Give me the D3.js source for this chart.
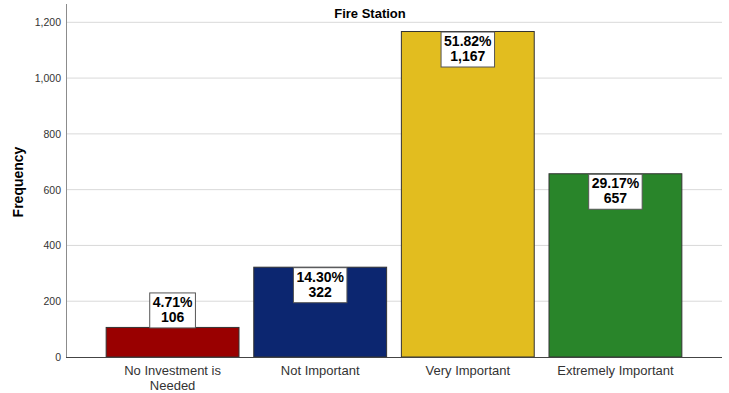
<!DOCTYPE html>
<html><head><meta charset="utf-8">
<script src="https://cdn.jsdelivr.net/npm/d3@7"></script>
<style>body{margin:0;background:#fff}svg{display:block}</style>
</head><body><svg id="c" width="729" height="393"></svg>
<script>
const categories = ["No Investment is Needed", "Not Important", "Very Important", "Extremely Important"];
const labelLines = [["No Investment is", "Needed"], ["Not Important"], ["Very Important"], ["Extremely Important"]];
const counts = [106, 322, 1167, 657];
const percents = ["4.71%", "14.30%", "51.82%", "29.17%"];
const colors = ["#990000", "#0c2670", "#e2bd1f", "#29852a"];
const yTicks = [0, 200, 400, 600, 800, 1000, 1200];
const title = "Fire Station";
const yLabel = "Frequency";

const svg = d3.select("#c");
const L = 66, R = 722, T = 4, B = 357;
const y = d3.scaleLinear().domain([0, 1200]).range([B, 22.3]);
const x = d3.scaleBand().domain(categories).range([L, R]).paddingInner(0.1).paddingOuter(0.272);
const fmt = d3.format(",");

// gridlines
svg.append("g").selectAll("line").data(yTicks.filter(d => d > 0)).join("line")
  .attr("x1", L).attr("x2", R).attr("y1", d => y(d)).attr("y2", d => y(d))
  .attr("stroke", "#d9d9d9").attr("stroke-width", 1);

// y axis
const ya = svg.append("g").attr("transform", `translate(${L},0)`)
  .call(d3.axisLeft(y).tickValues(yTicks).tickFormat(fmt).tickSize(0).tickPadding(5));
ya.select(".domain").remove();
ya.selectAll("text").attr("font-family", "Arial, Liberation Sans, sans-serif").attr("font-size", 10.5).attr("fill", "#333");
svg.append("line").attr("x1", L + 0.5).attr("x2", L + 0.5).attr("y1", T).attr("y2", B).attr("stroke", "#8c8c8c");

// bars
svg.append("g").selectAll("rect").data(categories).join("rect")
  .attr("x", d => x(d)).attr("width", x.bandwidth())
  .attr("y", (d, i) => y(counts[i])).attr("height", (d, i) => B - y(counts[i]))
  .attr("fill", (d, i) => colors[i]).attr("stroke", "#333").attr("stroke-width", 1);

// x axis line
svg.append("line").attr("x1", L).attr("x2", R).attr("y1", B + 0.5).attr("y2", B + 0.5).attr("stroke", "#444");

// category labels
const cl = svg.append("g").selectAll("text").data(categories).join("text")
  .attr("x", d => x(d) + x.bandwidth() / 2).attr("y", 375)
  .attr("text-anchor", "middle").attr("font-family", "Arial, Liberation Sans, sans-serif")
  .attr("font-size", 13).attr("fill", "#333");
cl.each(function(d, i) {
  const t = d3.select(this);
  labelLines[i].forEach((ln, j) => t.append("tspan").attr("x", x(d) + x.bandwidth() / 2).attr("dy", j ? 14.5 : 0).text(ln));
});

// data labels
const boxH = 35;
categories.forEach((c, i) => {
  const cx = x(c) + x.bandwidth() / 2;
  const top = y(counts[i]);
  const by = (B - top) > boxH + 5 ? top : top - boxH;
  const g = svg.append("g");
  const t1 = g.append("text").attr("x", cx).attr("y", by + 14.5).attr("text-anchor", "middle")
    .attr("font-family", "Arial, Liberation Sans, sans-serif").attr("font-weight", "bold")
    .attr("font-size", 14).attr("fill", "#000").text(percents[i]);
  const t2 = g.append("text").attr("x", cx).attr("y", by + 29.5).attr("text-anchor", "middle")
    .attr("font-family", "Arial, Liberation Sans, sans-serif").attr("font-weight", "bold")
    .attr("font-size", 14).attr("fill", "#000").text(fmt(counts[i]));
  const w = Math.max(t1.node().getComputedTextLength(), t2.node().getComputedTextLength()) + 6;
  g.insert("rect", "text").attr("x", cx - w / 2).attr("y", by + 0.5).attr("width", w).attr("height", boxH)
    .attr("fill", "#fff").attr("stroke", "#555").attr("stroke-width", 1);
});

// title
svg.append("text").attr("x", 370).attr("y", 18).attr("text-anchor", "middle")
  .attr("font-family", "Arial, Liberation Sans, sans-serif").attr("font-weight", "bold")
  .attr("font-size", 13).attr("fill", "#000").text(title);

// y label
svg.append("text").attr("transform", "translate(23,182) rotate(-90)").attr("text-anchor", "middle")
  .attr("font-family", "Arial, Liberation Sans, sans-serif").attr("font-weight", "bold")
  .attr("font-size", 14).attr("fill", "#000").text(yLabel);
</script></body></html>
